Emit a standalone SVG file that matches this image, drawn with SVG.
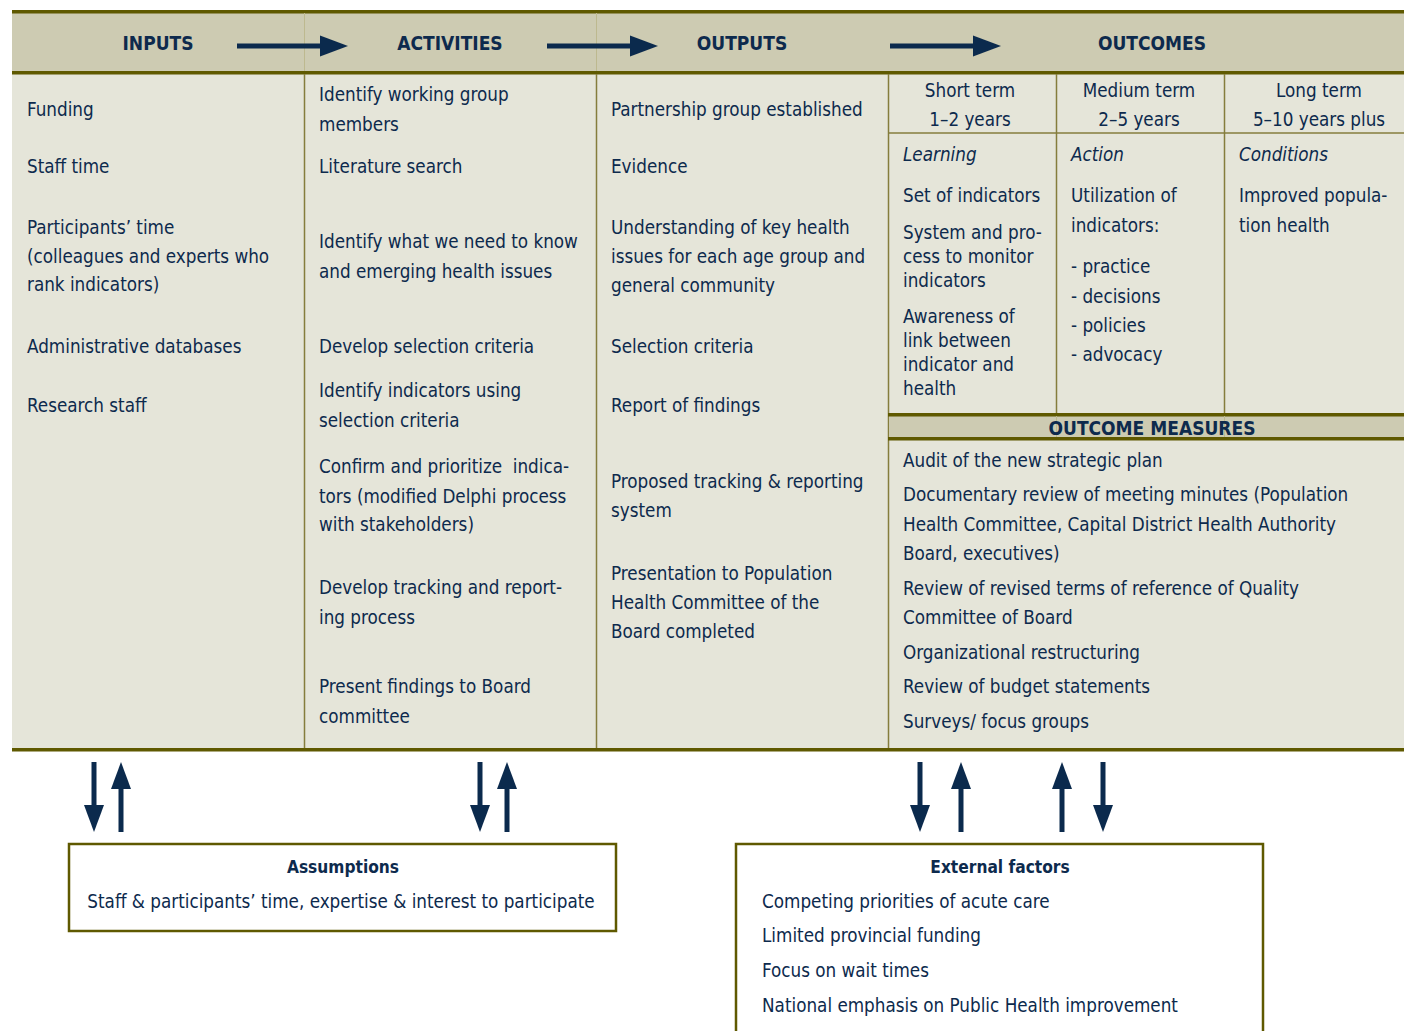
<svg xmlns="http://www.w3.org/2000/svg" width="1404" height="1031" viewBox="0 0 1404 1031">
<defs>
<style>
text{font-family:"DejaVu Sans Condensed","Liberation Sans",sans-serif;font-size:18.7px;fill:#0d2a4d}
.h{font-weight:bold;font-size:19px;text-anchor:middle}
.c{text-anchor:middle}
.i{font-style:italic}
.t{font-weight:bold;font-size:17.2px;text-anchor:middle}
.thick{fill:#5f5900}
.thin{stroke:#857d3c;stroke-width:1.5;fill:none}
.faint{stroke:#bdb98f;stroke-width:1;fill:none}
.box{fill:#ffffff;stroke:#5f5900;stroke-width:2.5}
.arr{stroke:#0b2a4d;stroke-width:5;fill:none;marker-end:url(#ah)}
.harr{stroke:#0b2a4d;stroke-width:5;fill:none;marker-end:url(#hh)}
</style>
<marker id="ah" markerUnits="userSpaceOnUse" markerWidth="28" markerHeight="22" refX="0" refY="10" orient="auto" viewBox="0 0 28 20">
<path d="M0,0 L27,10 L0,20 z" fill="#0b2a4d"/>
</marker>
<marker id="hh" markerUnits="userSpaceOnUse" markerWidth="29" markerHeight="22" refX="0" refY="10.5" orient="auto" viewBox="0 0 29 21">
<path d="M0,0 L28,10.5 L0,21 z" fill="#0b2a4d"/>
</marker>
</defs>

<g id="frame">
<rect x="12" y="13" width="1392" height="59" fill="#cdcbb2"/>
<rect x="12" y="74" width="1392" height="675" fill="#e5e5d9"/>
<rect class="thick" x="12" y="10" width="1392" height="3.5"/>
<rect class="thick" x="12" y="71" width="1392" height="3.5"/>
<rect class="thick" x="12" y="748" width="1392" height="3.5"/>
<line class="faint" x1="304.5" y1="13" x2="304.5" y2="71"/>
<line class="faint" x1="596.5" y1="13" x2="596.5" y2="71"/>
<line class="thin" x1="304.5" y1="74" x2="304.5" y2="748"/>
<line class="thin" x1="596.5" y1="74" x2="596.5" y2="748"/>
<line class="thin" x1="888.5" y1="74" x2="888.5" y2="748"/>
<line class="thin" x1="888" y1="133" x2="1404" y2="133"/>
<line class="thin" x1="1056.5" y1="74" x2="1056.5" y2="413"/>
<line class="thin" x1="1224.5" y1="74" x2="1224.5" y2="413"/>
<rect x="889" y="416" width="515" height="22" fill="#cdcbb2"/>
<rect class="thick" x="888" y="413" width="516" height="3.5"/>
<rect class="thick" x="888" y="437" width="516" height="3.5"/>
<line class="faint" x1="1056.5" y1="416" x2="1056.5" y2="437"/>
<line class="faint" x1="1224.5" y1="416" x2="1224.5" y2="437"/>
</g>

<g id="header">
<text class="h" x="158" y="50">INPUTS</text>
<text class="h" x="450" y="50">ACTIVITIES</text>
<text class="h" x="742" y="50">OUTPUTS</text>
<text class="h" x="1152" y="50">OUTCOMES</text>
</g>

<g id="inputs">
<text x="27" y="116">Funding</text>
<text x="27" y="173">Staff time</text>
<text x="27" y="234">Participants’ time</text>
<text x="27" y="263">(colleagues and experts who</text>
<text x="27" y="291">rank indicators)</text>
<text x="27" y="353">Administrative databases</text>
<text x="27" y="412">Research staff</text>
</g>

<g id="activities">
<text x="319" y="101">Identify working group</text>
<text x="319" y="131">members</text>
<text x="319" y="173">Literature search</text>
<text x="319" y="248">Identify what we need to know</text>
<text x="319" y="278">and emerging health issues</text>
<text x="319" y="353">Develop selection criteria</text>
<text x="319" y="397">Identify indicators using</text>
<text x="319" y="427">selection criteria</text>
<text x="319" y="473" xml:space="preserve">Confirm and prioritize  indica-</text>
<text x="319" y="503">tors (modified Delphi process</text>
<text x="319" y="531">with stakeholders)</text>
<text x="319" y="594">Develop tracking and report-</text>
<text x="319" y="624">ing process</text>
<text x="319" y="693">Present findings to Board</text>
<text x="319" y="723">committee</text>
</g>

<g id="outputs">
<text x="611" y="116">Partnership group established</text>
<text x="611" y="173">Evidence</text>
<text x="611" y="234">Understanding of key health</text>
<text x="611" y="263">issues for each age group and</text>
<text x="611" y="292">general community</text>
<text x="611" y="353">Selection criteria</text>
<text x="611" y="412">Report of findings</text>
<text x="611" y="488">Proposed tracking &amp; reporting</text>
<text x="611" y="517">system</text>
<text x="611" y="580">Presentation to Population</text>
<text x="611" y="609">Health Committee of the</text>
<text x="611" y="638">Board completed</text>
</g>

<g id="short-term">
<text class="c" x="970" y="97">Short term</text>
<text class="c" x="970" y="126">1–2 years</text>
<text class="i" x="903" y="161">Learning</text>
<text x="903" y="202">Set of indicators</text>
<text x="903" y="239">System and pro-</text>
<text x="903" y="263">cess to monitor</text>
<text x="903" y="287">indicators</text>
<text x="903" y="323">Awareness of</text>
<text x="903" y="347">link between</text>
<text x="903" y="371">indicator and</text>
<text x="903" y="395">health</text>
</g>

<g id="medium-term">
<text class="c" x="1139" y="97">Medium term</text>
<text class="c" x="1139" y="126">2–5 years</text>
<text class="i" x="1071" y="161">Action</text>
<text x="1071" y="202">Utilization of</text>
<text x="1071" y="232">indicators:</text>
<text x="1071" y="273">- practice</text>
<text x="1071" y="303">- decisions</text>
<text x="1071" y="332">- policies</text>
<text x="1071" y="361">- advocacy</text>
</g>

<g id="long-term">
<text class="c" x="1319" y="97">Long term</text>
<text class="c" x="1319" y="126">5–10 years plus</text>
<text class="i" x="1239" y="161">Conditions</text>
<text x="1239" y="202">Improved popula-</text>
<text x="1239" y="232">tion health</text>
</g>

<g id="outcome-measures">
<text class="h" x="1152" y="435">OUTCOME MEASURES</text>
<text x="903" y="467">Audit of the new strategic plan</text>
<text x="903" y="501">Documentary review of meeting minutes (Population</text>
<text x="903" y="531">Health Committee, Capital District Health Authority</text>
<text x="903" y="560">Board, executives)</text>
<text x="903" y="595">Review of revised terms of reference of Quality</text>
<text x="903" y="624">Committee of Board</text>
<text x="903" y="659">Organizational restructuring</text>
<text x="903" y="693">Review of budget statements</text>
<text x="903" y="728">Surveys/ focus groups</text>
</g>

<g id="assumptions">
<rect class="box" x="69" y="844" width="547" height="87"/>
<text class="t" x="343" y="873">Assumptions</text>
<text class="c" x="341" y="908">Staff &amp; participants’ time, expertise &amp; interest to participate</text>
</g>

<g id="external-factors">
<rect class="box" x="736" y="844" width="527" height="200"/>
<text class="t" x="1000" y="873">External factors</text>
<text x="762" y="908">Competing priorities of acute care</text>
<text x="762" y="942">Limited provincial funding</text>
<text x="762" y="977">Focus on wait times</text>
<text x="762" y="1012">National emphasis on Public Health improvement</text>
</g>

<g id="connectors">
<line class="harr" x1="237" y1="46" x2="320" y2="46"/>
<line class="harr" x1="547" y1="46" x2="630" y2="46"/>
<line class="harr" x1="890" y1="46" x2="973" y2="46"/>
<line class="arr" x1="94" y1="762" x2="94" y2="805"/>
<line class="arr" x1="121" y1="832" x2="121" y2="789"/>
<line class="arr" x1="480" y1="762" x2="480" y2="805"/>
<line class="arr" x1="507" y1="832" x2="507" y2="789"/>
<line class="arr" x1="920" y1="762" x2="920" y2="805"/>
<line class="arr" x1="961" y1="832" x2="961" y2="789"/>
<line class="arr" x1="1062" y1="832" x2="1062" y2="789"/>
<line class="arr" x1="1103" y1="762" x2="1103" y2="805"/>
</g>
</svg>
